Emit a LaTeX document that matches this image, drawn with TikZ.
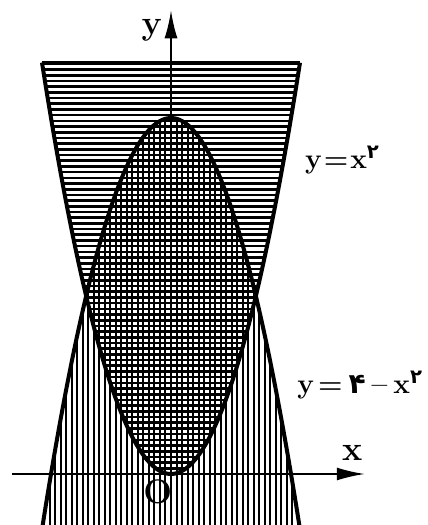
\documentclass[tikz,border=0pt]{standalone}
\usepackage{fontspec}
\newfontfamily\fadigits[Script=Arabic]{DejaVu Sans}
\usepackage{tikz}
\usetikzlibrary{arrows.meta}

\begin{document}
\begin{tikzpicture}[
                x=30pt, y=44.5pt,
                curve/.style={line width=2pt},
                hhatch/.style={line width=1.3pt},
                vhatch/.style={line width=1pt},
                axis/.style={line width=1pt, -{Latex[length=14pt,width=6.5pt]}},
                lbl/.style={font=\fontsize{17}{20}\selectfont\bfseries, inner sep=1pt},
                eqlbl/.style={font=\fontsize{14}{17}\selectfont\bfseries, inner sep=0pt, anchor=west}
            ]
            \useasboundingbox (-2.85,-0.573) rectangle (4.267,5.326);
            % area above y=x^2
            \begin{scope}
                \clip plot[domain=-2.15:2.15, samples=60] (\x,{\x*\x}) -- cycle;
                \foreach \k in {0,...,72}
                    \draw[hhatch] (-2.3,\k*0.064) -- (2.3,\k*0.064);
            \end{scope}
            % area below y=4-x^2
            \begin{scope}
                \clip (-2.16,-0.7) -- plot[domain=-2.16:2.16, samples=60] (\x,{4-\x*\x}) -- (2.16,-0.7) -- cycle;
                \foreach \k in {-24,...,24}
                    \draw[vhatch] (\k*0.092,-0.7) -- (\k*0.092,4.1);
            \end{scope}
            \coordinate (tl) at (-2.15,4.6225);
            \coordinate (tr) at (2.15,4.6225);
            \draw[hhatch] (tl) -- (tr);
            % the two curves
            \draw[curve] plot[domain=-2.15:2.15, smooth, samples=60] (\x,{\x*\x});
            \draw[curve] plot[domain=-2.16:2.16, smooth, samples=60] (\x,{4-\x*\x});
            % axes
            \coordinate (xs) at (-2.65,0);
            \coordinate (xe) at (3.23,0);
            \coordinate (ys) at (0,-0.6);
            \coordinate (ye) at (0,5.21);
            \draw[axis] (xs) -- (xe);
            \draw[axis] (ys) -- (ye);
            \node[lbl] (xlbl) at (3.02,0.24) {x};
            \node[lbl] (ylbl) at (-0.32,4.99) {y};
            \node[lbl] (olbl) at (-0.22,-0.20) {O};
            \node[eqlbl] (upper) at (2.23,3.53) {y\hspace{1pt}=\hspace{1pt}x\textsuperscript{\fadigits ۲}};
            \node[eqlbl] (lower) at (2.1,1.0) {y\hspace{2pt}=\hspace{3pt}{\fadigits ۴}\hspace{3pt}--\hspace{3pt}x\textsuperscript{\fadigits ۲}};
        \end{tikzpicture}
\end{document}
